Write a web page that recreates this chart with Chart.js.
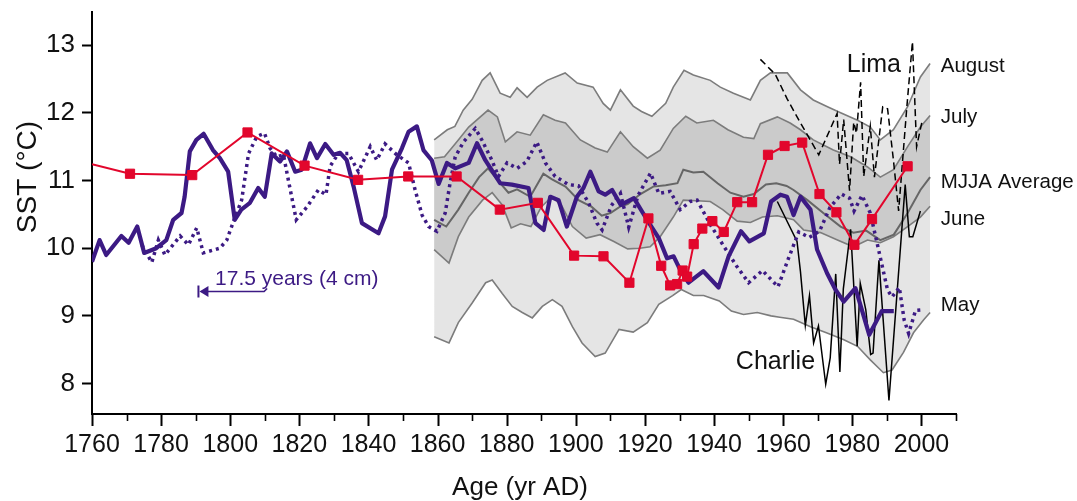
<!DOCTYPE html>
<html><head><meta charset="utf-8">
<script src="https://cdn.jsdelivr.net/npm/chart.js@4.4.1/dist/chart.umd.min.js"></script>
<style>html,body{margin:0;padding:0;background:#fff;}#wrap{width:1077px;height:501px;}</style>
</head><body><div id="wrap"><canvas id="c" width="1077" height="501"></canvas></div>
<script>
const FONT = '"Liberation Sans", Arial, Helvetica, sans-serif';

const xTickYears = [1760,1770,1780,1790,1800,1810,1820,1830,1840,1850,1860,1870,1880,1890,1900,1910,1920,1930,1940,1950,1960,1970,1980,1990,2000,2010];
const yTicks = [8,9,10,11,12,13];

const augYears = [1859,1862.8,1865,1867.4,1870,1872.9,1875.2,1878.1,1881,1883,1885.9,1888.8,1891.7,1896.9,1900.4,1905,1907.9,1910,1912.9,1916.6,1919,1922,1926,1928.2,1931.3,1934,1938.9,1941.8,1945.6,1950.5,1953.4,1956.3,1961.2,1965,1968.7,1972.8,1976.6,1981.5,1985.2,1988.1,1991.9,1996,1999.7,2002.5];
const augSST   = [11.60,11.75,11.80,12.04,12.20,12.48,12.59,12.29,12.23,12.37,12.23,12.38,12.48,12.59,12.44,12.38,12.14,12.04,12.34,12.10,12.02,11.95,12.14,12.38,12.63,12.56,12.48,12.38,12.29,12.19,12.48,12.59,12.59,12.34,12.19,12.09,12.00,11.89,11.79,11.60,11.75,12.09,12.53,12.73];

const julYears = [1859,1862,1866,1869,1874.6,1877.3,1879.6,1883,1886.8,1890.6,1894,1897,1901.3,1905.6,1909.1,1912.9,1916.6,1920.7,1924.4,1928.2,1931.8,1935,1939.8,1944,1948.5,1951.5,1953.4,1958.3,1962,1965,1968.7,1974.5,1979.5,1984.4,1988.1,1991.9,1996,1999.7,2002.5];
const julSST   = [11.33,11.35,11.60,11.79,12.04,11.94,11.57,11.72,11.67,11.97,11.89,11.85,11.60,11.48,11.42,11.72,11.50,11.33,11.45,11.77,11.95,11.85,11.89,11.75,11.64,11.62,11.84,11.94,11.85,11.75,11.60,11.45,11.35,11.20,11.05,11.16,11.50,11.79,11.96];

const mjjaYears = [1859,1862.5,1866,1869,1872,1874.6,1877.5,1880.5,1883,1886.8,1890.6,1893,1897,1900.8,1904.6,1907.5,1910,1913,1915,1918.7,1922.4,1926,1929.4,1931.1,1934,1936.9,1941,1944.7,1948.5,1951.5,1955,1958,1961,1963,1967,1971.6,1976.6,1980.3,1984,1988.1,1992,1996,1999.7,2002.5];
const mjjaSST   = [10.42,10.32,10.57,10.82,11.05,11.18,11.00,10.82,10.87,10.76,11.10,11.02,10.91,10.71,10.61,10.48,10.52,10.62,10.65,10.80,10.91,10.93,10.96,11.16,11.12,11.13,10.96,10.82,10.76,10.80,10.94,10.96,10.92,10.86,10.71,10.52,10.32,10.23,10.26,10.12,10.20,10.52,10.86,11.05];

const junYears = [1859,1863.3,1866,1869,1873,1875.8,1878.7,1881.3,1884,1887,1890,1893,1896,1899,1903,1907,1911,1915,1918.5,1921.5,1924.4,1928.2,1931.1,1935,1938.9,1942.5,1946.7,1950.5,1954,1958.3,1963,1965.9,1970.8,1975.7,1980.3,1984.4,1988.1,1991.9,1996,1999.7,2002.5];
const junSST   = [9.98,9.78,10.17,10.46,10.71,10.82,10.64,10.30,10.36,10.32,10.61,10.76,10.62,10.32,10.15,10.20,10.10,9.99,10.00,10.02,10.17,10.46,10.71,10.70,10.69,10.57,10.40,10.38,10.46,10.48,10.42,10.27,10.23,10.12,10.02,10.12,10.08,10.17,10.32,10.46,10.62];

const mayYears = [1859,1863.3,1866,1870,1873.9,1875.8,1878.7,1881.6,1884.5,1887.4,1890.3,1893.2,1896,1899,1901.8,1905.6,1908.5,1912.5,1916.6,1920.7,1924,1928,1930.5,1934,1937,1941.5,1945,1948.5,1952.5,1956.5,1959,1963,1967.9,1972.5,1977.4,1981.5,1985.2,1989,1991.5,1994.8,1997.7,2000.6,2002.5];
const maySST   = [8.69,8.60,8.90,9.19,9.49,9.53,9.33,9.14,9.05,8.97,9.14,9.24,9.14,8.84,8.60,8.40,8.45,8.80,8.76,8.90,9.17,9.30,9.39,9.30,9.30,9.22,9.07,9.02,9.05,9.00,8.98,8.95,8.84,8.75,8.65,8.55,8.35,8.16,8.20,8.46,8.75,8.94,9.05];

const redYears = [1760,1771,1789,1805,1821.5,1837,1851.5,1865.5,1878,1889,1899.5,1908,1915.5,1921,1924.7,1927.3,1929.3,1930.9,1932.2,1934.1,1936.6,1939.5,1942.8,1946.7,1951,1955.6,1960.4,1965.5,1970.5,1975.4,1980.6,1985.7,1996];
const redSST   = [11.24,11.10,11.08,11.71,11.22,11.01,11.06,11.06,10.57,10.67,9.89,9.88,9.49,10.44,9.74,9.45,9.47,9.67,9.58,10.06,10.29,10.40,10.24,10.68,10.68,11.38,11.51,11.56,10.80,10.53,10.05,10.43,11.21];

const purpleYears = [1760,1762.2,1764.1,1768.5,1770.6,1773.1,1775.1,1778.6,1781.5,1783.5,1785.9,1786.8,1788.3,1790.2,1792.3,1795,1797,1799.4,1801.3,1803.2,1805.7,1808.1,1810,1812,1814.4,1816.4,1818.8,1820.7,1823.1,1825.1,1827.5,1829.9,1831.8,1833.7,1835.7,1838.1,1842.9,1844.8,1846.8,1849.7,1851.6,1854,1855.9,1858.3,1860.3,1862.7,1865.1,1869,1871.4,1873.8,1878.1,1881.5,1886.3,1888.3,1890.7,1892.6,1895,1897.4,1900.3,1902.2,1904.2,1906.6,1908.5,1910.5,1913,1916.8,1920.6,1924,1926.4,1928.3,1930.2,1932.6,1936.9,1941.3,1944.2,1947.8,1950.2,1954.4,1956.5,1959.2,1961.1,1963,1965,1967.9,1969.8,1972.7,1975.1,1977.5,1980.9,1984.9,1988.5,1992];
const purpleSST   = [9.80,10.12,9.90,10.18,10.08,10.32,9.93,10.00,10.12,10.42,10.52,10.76,11.43,11.60,11.69,11.45,11.33,11.13,10.42,10.57,10.67,10.89,10.76,11.40,11.28,11.43,11.13,11.16,11.55,11.33,11.54,11.38,11.41,11.30,10.91,10.37,10.22,10.47,11.16,11.48,11.72,11.80,11.45,11.30,10.95,11.26,11.18,11.26,11.55,11.30,10.96,10.94,10.89,10.37,10.27,10.76,10.71,10.32,10.76,10.89,11.13,10.84,10.79,10.86,10.64,10.74,10.42,10.15,9.85,9.88,9.68,9.49,9.66,9.42,9.88,10.25,10.10,10.22,10.69,10.79,10.76,10.49,10.76,10.57,9.98,9.63,9.39,9.21,9.41,8.72,9.07,9.07];

const dottedYears = [1774.4,1777.3,1779.2,1781.1,1785.5,1787.9,1790.3,1792.2,1797,1799,1800.9,1803.3,1805.3,1807.7,1809.9,1811.5,1813.5,1815.4,1816.8,1819.1,1822.2,1825.5,1827.7,1828.9,1831.3,1834.2,1837.1,1840.5,1842.4,1844.8,1848.2,1851.6,1853.5,1855.5,1857.4,1859.8,1862.2,1863.6,1865.1,1867.5,1870.9,1872.8,1875.7,1877.6,1880.1,1883,1885.8,1888.7,1891.2,1894,1897.9,1900.8,1903.7,1906.1,1907.6,1910.3,1912.9,1915.3,1918,1921.6,1924,1927.3,1930.2,1933.1,1935.1,1938.9,1942.8,1946.6,1950,1954,1958.5,1961.6,1964.5,1967.5,1970.5,1973.5,1976.8,1979.2,1980.5,1982.8,1985.2,1987.5,1990.2,1991.5,1993.6,1995,1996.3,1998.3,2000.5];
const dottedSST   = [10.05,9.79,10.12,9.90,10.18,10.05,10.30,9.93,10.00,10.12,10.39,10.71,11.40,11.65,11.70,11.48,11.35,11.38,11.01,10.42,10.61,10.86,10.79,11.21,11.40,11.40,11.13,11.50,11.30,11.54,11.38,11.26,10.86,10.49,10.32,10.25,10.52,10.96,11.35,11.57,11.77,11.60,11.30,11.06,11.26,11.18,11.28,11.57,11.26,11.06,10.94,10.92,10.67,10.37,10.27,10.63,10.81,10.31,10.78,11.11,10.81,10.84,10.57,10.69,10.71,10.35,10.03,9.73,9.49,9.67,9.43,9.86,10.24,10.16,10.25,10.60,10.80,10.74,10.55,10.78,10.52,10.00,9.38,9.28,9.42,8.94,8.74,9.08,9.09];

const charlieYears = [1958.3,1964,1965,1966.4,1967.6,1968.8,1970.2,1972.3,1973.6,1975.2,1976.4,1977.4,1979.5,1981.4,1982.3,1983.9,1985.3,1986,1987.7,1990.6,1995.3,1996.5,1997.5,1999.7];
const charlieSST   = [10.69,10.10,9.65,8.86,9.30,8.60,8.85,7.99,8.38,9.62,8.17,9.40,10.28,8.55,9.48,9.09,8.43,8.45,9.82,7.75,10.94,10.17,10.17,10.55];

const limaYears = [1953.4,1957.7,1961.1,1965,1970.3,1975.6,1976.3,1977.5,1979.2,1980.4,1981.2,1982.4,1983.3,1985.2,1986.4,1988.8,1990.2,1991.9,1993.4,1995.7,1997.4,1998.6,2000.2];
const limaSST   = [12.79,12.57,12.21,11.85,11.38,11.99,11.24,11.90,10.85,11.86,11.70,12.45,11.06,11.80,11.05,12.09,12.06,11.30,10.55,12.04,13.05,11.50,11.88];

const bandLabels = ['August','July','MJJA Average','June','May'];
const bandLabelSST = [12.68,11.94,10.98,10.43,9.15];

function pts(xs, ys) { return xs.map((x, i) => ({ x: x, y: ys[i] })); }

const PURPLE = '#3c1a84';
const RED = '#e2062c';
const GRAYLINE = '#7c7c7c';

const textPlugin = {
  id: 'texts',
  afterDraw(chart) {
    const c = chart.ctx, xs = chart.scales.x, ys = chart.scales.y, area = chart.chartArea;
    c.save();
    c.strokeStyle = '#000';
    xTickYears.forEach(v => {
      const px = Math.round(xs.getPixelForValue(v)) + 0.5;
      const major = v % 20 === 0;
      c.lineWidth = major ? 2 : 1.6;
      c.beginPath(); c.moveTo(px, area.bottom); c.lineTo(px, area.bottom + (major ? 12 : 7)); c.stroke();
    });
    c.fillStyle = '#111';
    c.font = '20.5px ' + FONT;
    c.textBaseline = 'middle'; c.textAlign = 'left';
    bandLabels.forEach((t, i) => c.fillText(t, xs.getPixelForValue(2005.6), ys.getPixelForValue(bandLabelSST[i])));
    c.font = '25px ' + FONT;
    c.fillText('Lima', xs.getPixelForValue(1978.4), ys.getPixelForValue(12.7));
    c.fillText('Charlie', xs.getPixelForValue(1946.3), ys.getPixelForValue(8.31));
    c.fillStyle = PURPLE; c.strokeStyle = PURPLE;
    c.font = '21px ' + FONT;
    c.fillText('17.5 years (4 cm)', xs.getPixelForValue(1795.6), ys.getPixelForValue(9.54));
    const ay = ys.getPixelForValue(9.36);
    const ax0 = xs.getPixelForValue(1790.8), ax1 = xs.getPixelForValue(1809.8);
    c.lineWidth = 1.6;
    c.beginPath(); c.moveTo(ax0 + 8, ay); c.lineTo(ax1, ay); c.lineTo(ax1 + 3, ay - 3); c.stroke();
    c.beginPath(); c.moveTo(ax0 + 1, ay); c.lineTo(ax0 + 10, ay - 5.5); c.lineTo(ax0 + 10, ay + 5.5); c.closePath(); c.fill();
    c.lineWidth = 2;
    c.beginPath(); c.moveTo(ax0, ay - 6); c.lineTo(ax0, ay + 6); c.stroke();
    c.fillStyle = '#111';
    c.font = '26px ' + FONT;
    c.textAlign = 'center';
    c.fillText('Age (yr AD)', (area.left + area.right) / 2 - 4, 488);
    c.font = '28px ' + FONT;
    c.translate(28, 177); c.rotate(-Math.PI / 2);
    c.fillText('SST (°C)', 0, 0);
    c.restore();
  }
};

new Chart(document.getElementById('c'), {
  type: 'line',
  data: {
    datasets: [
      { label: 'Red', data: pts(redYears, redSST), borderColor: RED, backgroundColor: RED, borderWidth: 2,
        pointStyle: 'rect', pointRadius: redYears.map((y, i) => i === 0 ? 0 : 6.5), pointBorderWidth: 1,
        pointBorderColor: RED, pointBackgroundColor: RED, order: 0 },
      { label: 'Purple', data: pts(purpleYears, purpleSST), borderColor: PURPLE, borderWidth: 4.2, borderJoinStyle: 'round', pointRadius: 0, order: 1 },
      { label: 'Purple dotted', data: pts(dottedYears, dottedSST), borderColor: PURPLE, borderWidth: 3.5, borderDash: [3, 4], pointRadius: 0, order: 2 },
      { label: 'Charlie', data: pts(charlieYears, charlieSST), borderColor: '#000', borderWidth: 1.5, pointRadius: 0, order: 3 },
      { label: 'Lima', data: pts(limaYears, limaSST), borderColor: '#000', borderWidth: 1.5, borderDash: [7, 4], pointRadius: 0, order: 4 },
      { label: 'MJJA', data: pts(mjjaYears, mjjaSST), borderColor: '#666', borderWidth: 2, pointRadius: 0, fill: false, order: 5 },
      { label: 'July', data: pts(julYears, julSST), borderColor: GRAYLINE, borderWidth: 1.6, pointRadius: 0, fill: { target: 7 }, backgroundColor: '#cbcbcb', order: 6 },
      { label: 'June', data: pts(junYears, junSST), borderColor: GRAYLINE, borderWidth: 1.6, pointRadius: 0, fill: false, order: 7 },
      { label: 'August', data: pts(augYears, augSST), borderColor: GRAYLINE, borderWidth: 1.6, pointRadius: 0, fill: { target: 9 }, backgroundColor: '#e5e5e5', order: 8 },
      { label: 'May', data: pts(mayYears, maySST), borderColor: GRAYLINE, borderWidth: 1.6, pointRadius: 0, fill: false, order: 9 }
    ]
  },
  options: {
    responsive: false, animation: false, devicePixelRatio: 1,
    layout: { padding: { top: 12, right: 121, left: 0, bottom: 0 } },
    elements: { line: { tension: 0 }, point: { radius: 0 } },
    plugins: { legend: { display: false }, tooltip: { enabled: false }, filler: { drawTime: 'beforeDatasetsDraw', propagate: false } },
    scales: {
      x: {
        type: 'linear', min: 1760, max: 2010,
        afterBuildTicks: s => { s.ticks = xTickYears.map(v => ({ value: v })); },
        afterFit: s => { s.height = 87; s.paddingLeft = 0; s.paddingRight = 0; },
        grid: { display: true, drawOnChartArea: false, drawTicks: false },
        border: { display: true, color: '#000', width: 2 },
        ticks: { callback: v => (v % 20 === 0 ? String(v) : ''), autoSkip: false, maxRotation: 0, padding: 16,
                 color: '#111', font: { family: FONT, size: 25 } }
      },
      y: {
        type: 'linear', min: 7.55, max: 13.49,
        afterBuildTicks: s => { s.ticks = yTicks.map(v => ({ value: v })); },
        afterFit: s => { s.width = 92; s.paddingTop = 0; s.paddingBottom = 0; },
        grid: { display: true, drawOnChartArea: false, drawTicks: true, tickLength: 10, tickWidth: 2, tickColor: '#000' },
        border: { display: true, color: '#000', width: 2 },
        ticks: { padding: 7, color: '#111', font: { family: FONT, size: 26 } }
      }
    }
  },
  plugins: [textPlugin]
});
</script>
</body></html>
